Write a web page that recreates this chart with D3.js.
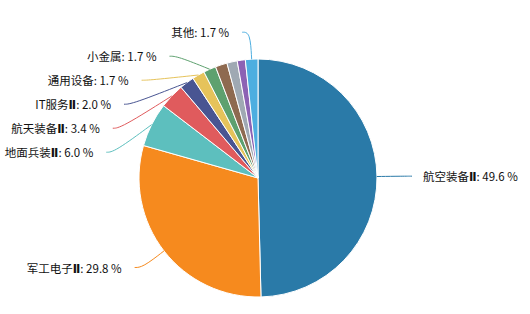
<!DOCTYPE html>
<html>
<head>
<meta charset="utf-8">
<script src="https://cdn.jsdelivr.net/npm/d3@7"></script>
<style>
  body { margin: 0; background: #fff; }
  text { font-family: "Noto Sans CJK SC", "Noto Sans", sans-serif; }
</style>
</head>
<body>
<div id="pie"></div>
<script>
// data, clockwise from 12 o'clock
const names = ["航空装备Ⅱ", "军工电子Ⅱ", "地面兵装Ⅱ", "航天装备Ⅱ", "IT服务Ⅱ", "通用设备", "小金属", "航海装备Ⅱ", "电子元件", "金属新材料", "其他"];
const values = [49.6, 29.8, 6.0, 3.4, 2.0, 1.7, 1.7, 1.6, 1.4, 1.1, 1.7];
const showLabel = [true, true, true, true, true, true, true, false, false, false, true];
const colors = ["#2a7aa8", "#f68a1e", "#5dbfbe", "#e05b5d", "#495592", "#e6c35b", "#5ea16f", "#8e6a50", "#9fa9b3", "#8c62b4", "#4daee0"];

const W = 530, H = 314;
const cx = 258, cy = 178, r = 119;
const len1 = 27, len2 = 8, gap = 24;

const svg = d3.select("#pie").append("svg")
  .attr("width", W).attr("height", H);

const g = svg.append("g").attr("transform", "translate(" + cx + "," + cy + ")");

const data = names.map((n, i) => ({ name: n, value: values[i], show: showLabel[i], color: colors[i] }));

const pie = d3.pie().sort(null).value(d => d.value);
const arcs = pie(data);
const arc = d3.arc().innerRadius(0).outerRadius(r);

g.selectAll("path.slice")
  .data(arcs)
  .enter().append("path")
    .attr("class", "slice")
    .attr("d", arc)
    .attr("fill", d => d.data.color)
    .attr("stroke", "#fff")
    .attr("stroke-width", 1);

// label layout, roughly like echarts: push overlapping labels apart
const R = r + len1;
const labels = arcs.filter(d => d.data.show).map(d => {
  const a = (d.startAngle + d.endAngle) / 2;
  return {
    d: d, a: a,
    side: Math.sin(a) >= 0 ? 1 : -1,
    ex: Math.sin(a) * r, ey: -Math.cos(a) * r,
    y: -Math.cos(a) * R
  };
});

[1, -1].forEach(side => {
  const list = labels.filter(l => l.side === side).sort((p, q) => p.y - q.y);
  for (let i = 1; i < list.length; i++) {
    if (list[i].y < list[i - 1].y + gap) list[i].y = list[i - 1].y + gap;
  }
});

labels.forEach(l => {
  const dy = Math.min(Math.abs(l.y), R);
  l.x = l.side * Math.sqrt(R * R - dy * dy);
  l.x2 = l.x + l.side * len2;
});

const line = d3.line().curve(d3.curveBasis);

g.selectAll("path.lbl-line")
  .data(labels)
  .enter().append("path")
    .attr("class", "lbl-line")
    .attr("d", l => line([[l.ex, l.ey], [l.x, l.y], [l.x2, l.y]]))
    .attr("fill", "none")
    .attr("stroke", l => l.d.data.color)
    .attr("stroke-width", 1);

const txt = g.selectAll("text.lbl")
  .data(labels)
  .enter().append("text")
    .attr("class", "lbl")
    .attr("x", l => l.x2 + l.side * (l.side > 0 ? 11 : 13))
    .attr("y", l => l.y + 1)
    .attr("dy", "0.35em")
    .attr("text-anchor", l => l.side > 0 ? "start" : "end")
    .attr("font-size", 11.5)
    .attr("fill", "#111");

// roman numeral drawn in a heavier face, like the original
txt.each(function(l) {
  const t = d3.select(this);
  const name = l.d.data.name;
  const k = name.indexOf("Ⅱ");
  if (k >= 0) {
    t.append("tspan").text(name.slice(0, k));
    t.append("tspan").attr("font-family", "DejaVu Sans").attr("font-weight", "bold").text("Ⅱ");
    t.append("tspan").text(name.slice(k + 1));
  } else {
    t.append("tspan").text(name);
  }
  t.append("tspan").text(": " + l.d.data.value.toFixed(1) + " %");
});
</script>
</body>
</html>
